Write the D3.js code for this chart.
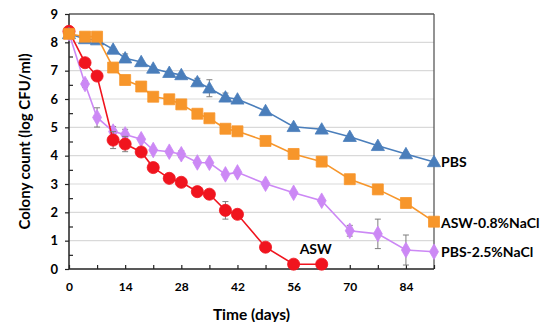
<!DOCTYPE html>
<html><head><meta charset="utf-8">
<script src="https://cdn.jsdelivr.net/npm/d3@7"></script>
<style>body{margin:0;background:#fff}svg{display:block}text{font-family:Lato,"Open Sans",sans-serif;font-weight:bold}</style>
</head><body><svg id="c" width="545" height="322"></svg>
<script>
const days = [0,4,7,11,14,18,21,25,28,32,35,39,42,49,56,63,70,77,84,91];
const pbs      = [8.30,8.12,8.08,7.75,7.44,7.31,7.08,6.93,6.85,6.60,6.38,6.06,5.99,5.58,5.02,4.93,4.67,4.35,4.06,3.78];
const pbsErr   = [0.05,0.05,0.05,0.05,0.15,0.05,0.05,0.05,0.05,0.13,0.30,0.15,0.05,0.05,0.05,0.05,0.05,0.05,0.05,0.05];
const asw08    = [8.30,8.20,8.20,7.11,6.67,6.44,6.08,5.99,5.81,5.48,5.32,4.95,4.86,4.52,4.06,3.79,3.17,2.81,2.33,1.67];
const asw08Err = [0.05,0.05,0.05,0.05,0.05,0.05,0.05,0.05,0.05,0.05,0.05,0.05,0.05,0.05,0.05,0.05,0.05,0.05,0.05,0.05];
const pbs25    = [8.32,6.53,5.35,4.85,4.75,4.58,4.20,4.14,4.05,3.76,3.75,3.34,3.41,3.01,2.69,2.41,1.35,1.24,0.67,0.61];
const pbs25Err = [0.05,0.12,0.34,0.18,0.18,0.05,0.05,0.05,0.12,0.05,0.05,0.05,0.05,0.05,0.05,0.05,0.19,0.52,0.53,0.05];
const aswDays  = [0,4,7,11,14,18,21,25,28,32,35,39,42,49,56,63];
const asw      = [8.39,7.28,6.81,4.55,4.41,4.13,3.58,3.20,3.06,2.73,2.64,2.07,1.93,0.77,0.17,0.17];
const aswErr   = [0.05,0.05,0.05,0.30,0.27,0.05,0.05,0.05,0.05,0.05,0.05,0.31,0.05,0.12,0.15,0.02];
const xTicks = [0,14,28,42,56,70,84];
const yTicks = [0,1,2,3,4,5,6,7,8,9];

const svg = d3.select("#c");
const L=69, R=434, T=14, B=269;
const x = d3.scaleLinear().domain([0,91]).range([L,R]);
const y = d3.scaleLinear().domain([0,9]).range([B,T]);

svg.append("g").selectAll("line").data(yTicks.filter(d=>d>0&&d<9)).join("line")
  .attr("x1",L).attr("x2",R).attr("y1",d=>y(d)).attr("y2",d=>y(d))
  .attr("stroke","#d9d9d9").attr("stroke-width",1.2);
svg.append("line").attr("x1",L).attr("x2",R).attr("y1",T).attr("y2",T).attr("stroke","#595959").attr("stroke-width",1.3);
svg.append("line").attr("x1",R).attr("x2",R).attr("y1",T).attr("y2",B).attr("stroke","#595959").attr("stroke-width",1.3);

const xa = svg.append("g").attr("transform",`translate(0,${B})`)
  .call(d3.axisBottom(x).tickValues(d3.range(0,92,7)).tickSize(-4).tickFormat(d=>xTicks.includes(d)?d:""));
xa.select(".domain").attr("stroke","#222").attr("stroke-width",1.5).attr("d",`M${L},0H${R}`);
xa.selectAll(".tick line").attr("stroke","#222").attr("stroke-width",1.2);
xa.selectAll(".tick text").attr("dy",0).attr("y",22).attr("font-size",12).attr("fill","#000")
  .style("font-family","Lato,'Open Sans',sans-serif").style("font-weight","bold");

const ya = svg.append("g").attr("transform",`translate(${L},0)`)
  .call(d3.axisLeft(y).tickValues(d3.range(0,9.01,0.5)).tickSize(4).tickFormat(d=>Number.isInteger(d)?d:""));
ya.select(".domain").attr("stroke","#222").attr("stroke-width",1.5).attr("d",`M0,${T}V${B}`);
ya.selectAll(".tick line").attr("stroke","#222").attr("stroke-width",1.2).attr("x2",d=>Number.isInteger(d)?-4:4);
ya.selectAll(".tick text").attr("x",-11).attr("font-size",13).attr("fill","#000")
  .style("font-family","Lato,'Open Sans',sans-serif").style("font-weight","bold");

const series = [
  {d:days, v:pbs25, e:pbs25Err, c:"#cc88f5", m:"dia"},
  {d:aswDays, v:asw, e:aswErr, c:"#f0141e", m:"circ"},
  {d:days, v:pbs, e:pbsErr, c:"#4a7ebb", m:"tri"},
  {d:days, v:asw08, e:asw08Err, c:"#f7962b", m:"sq"}
];
const sym = {
  tri: d3.symbol().type(d3.symbolTriangle).size(75),
  sq: d3.symbol().type(d3.symbolSquare).size(120),
  dia: d3.symbol().type(d3.symbolDiamond).size(70),
  circ: d3.symbol().type(d3.symbolCircle).size(115)
};
series.forEach(s=>{
  const pts = s.d.map((d,i)=>({x:d,v:s.v[i],e:s.e[i]}));
  const g = svg.append("g");
  g.append("path").datum(pts).attr("fill","none").attr("stroke",s.c).attr("stroke-width",1.6)
    .attr("d",d3.line().x(p=>x(p.x)).y(p=>y(p.v)));
  const eb = g.selectAll(".eb").data(pts.filter(p=>p.e>0.08)).join("g").attr("stroke","#7f7f7f").attr("stroke-width",1);
  eb.append("line").attr("x1",p=>x(p.x)).attr("x2",p=>x(p.x)).attr("y1",p=>y(p.v+p.e)).attr("y2",p=>y(Math.max(0,p.v-p.e)));
  eb.append("line").attr("x1",p=>x(p.x)-3).attr("x2",p=>x(p.x)+3).attr("y1",p=>y(p.v+p.e)).attr("y2",p=>y(p.v+p.e));
  eb.append("line").attr("x1",p=>x(p.x)-3).attr("x2",p=>x(p.x)+3).attr("y1",p=>y(Math.max(0,p.v-p.e))).attr("y2",p=>y(Math.max(0,p.v-p.e)));
  g.selectAll(".m").data(pts).join("path")
    .attr("transform",p=>`translate(${x(p.x)},${y(p.v)+(s.m==="tri"?1:0)})`)
    .attr("d",sym[s.m]()).attr("fill",s.c).attr("stroke",s.c).attr("stroke-width",0.8);
});

const lab = [
  {t:"PBS", xv:91, yv:pbs[pbs.length-1], dx:7, dy:0},
  {t:"ASW-0.8%NaCl", xv:91, yv:asw08[asw08.length-1], dx:7, dy:1},
  {t:"PBS-2.5%NaCl", xv:91, yv:pbs25[pbs25.length-1], dx:7, dy:0},
  {t:"ASW", xv:61.5, yv:0.7, dx:0, dy:0, a:"middle"}
];
svg.append("g").selectAll("text").data(lab).join("text")
  .attr("x",d=>x(d.xv)+d.dx).attr("y",d=>y(d.yv)+d.dy).attr("dy","0.35em")
  .attr("text-anchor",d=>d.a||"start").attr("font-size",14).attr("fill","#000").text(d=>d.t);

svg.append("text").attr("x",(L+R)/2).attr("y",320).attr("text-anchor","middle").attr("font-size",15.5).text("Time (days)");
svg.append("text").attr("transform",`translate(30,${(T+B)/2}) rotate(-90)`).attr("text-anchor","middle").attr("font-size",15).text("Colony count (log CFU/ml)");
</script></body></html>
